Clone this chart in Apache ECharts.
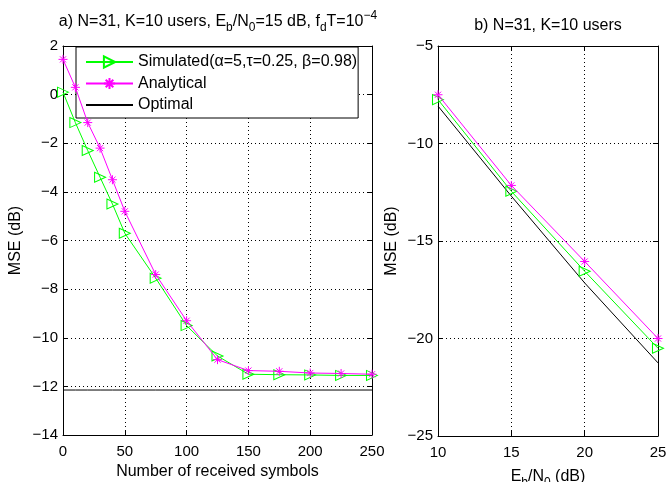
<!DOCTYPE html>
<html>
<head>
<meta charset="utf-8">
<script src="https://cdn.jsdelivr.net/npm/echarts@6/dist/echarts.min.js"></script>
<style>
  html, body { margin: 0; padding: 0; background: #fff; }
  #chart { width: 668px; height: 482px; }
</style>
</head>
<body>
<div id="chart"></div>
<script>
// Panel a: MSE versus number of received symbols (Eb/N0 = 15 dB)
const symbolsA    = [0, 10, 20, 30, 40, 50, 75, 100, 125, 150, 175, 200, 225, 250];
const simulatedA  = [0.1, -1.15, -2.3, -3.4, -4.5, -5.7, -7.55, -9.5, -10.75, -11.5, -11.52, -11.53, -11.55, -11.55];
const analyticalA = [1.45, 0.3, -1.15, -2.2, -3.5, -4.8, -7.4, -9.3, -10.9, -11.35, -11.38, -11.45, -11.47, -11.5];
const optimalA    = [-12.15, -12.15, -12.15, -12.15, -12.15, -12.15, -12.15, -12.15, -12.15, -12.15, -12.15, -12.15, -12.15, -12.15];

// Panel b: MSE versus Eb/N0
const ebn0B       = [10, 15, 20, 25];
const simulatedB  = [-7.75, -12.45, -16.55, -20.5];
const analyticalB = [-7.5, -12.15, -16.05, -20.0];
const optimalB    = [-8.08, -12.7, -17.15, -21.25];

// Axis ticks
const ticksAX = [0, 50, 100, 150, 200, 250];
const ticksAY = [-14, -12, -10, -8, -6, -4, -2, 0, 2];
const ticksBX = [10, 15, 20, 25];
const ticksBY = [-25, -20, -15, -10, -5];

const legendNames = ['Simulated(\u03b1=5,\u03c4=0.25, \u03b2=0.98)', 'Analytical', 'Optimal'];

const FONT = 'Liberation Sans, Arial, Helvetica, sans-serif';
const GREEN = '#00ff00', MAGENTA = '#ff00ff', BLACK = '#000000';
const ASTERISK = 'path://M5,0L5,10M0,5L10,5M1.6,1.6L8.4,8.4M8.4,1.6L1.6,8.4';

const pair = (xs, ys) => xs.map((x, i) => [x, ys[i]]);
const minus = v => String(v).replace('-', '\u2212');
const range = t => ({ min: t[0], max: t[t.length - 1], interval: t[1] - t[0] });

function axis(kind, gridIndex, ticks, position, primary, extra) {
  return Object.assign({
    type: 'value',
    gridIndex,
    position,
    ...range(ticks),
    axisLine: { show: true, onZero: false, lineStyle: { color: BLACK, width: 1 } },
    axisTick: { show: true, inside: true, length: 5, lineStyle: { color: BLACK } },
    axisLabel: primary
      ? { show: true, color: BLACK, fontFamily: FONT, fontSize: 15, margin: kind === 'x' ? 9 : 5, formatter: minus }
      : { show: false },
    splitLine: primary
      ? { show: true, lineStyle: { color: BLACK, type: [1, 3], width: 1 } }
      : { show: false }
  }, extra || {});
}

const nameStyle = {
  color: BLACK, fontFamily: FONT, fontSize: 16
};
const subNameStyle = {
  color: BLACK, fontFamily: FONT, fontSize: 16, lineHeight: 24,
  rich: {
    sub: { fontSize: 12, fontFamily: FONT, color: BLACK, verticalAlign: 'bottom', lineHeight: 8 }
  }
};

const simStyle = {
  symbol: 'triangle', symbolRotate: -90, symbolSize: [10, 11],
  lineStyle: { color: GREEN, width: 1 },
  itemStyle: { color: 'rgba(0,0,0,0)', borderColor: GREEN, borderWidth: 1 }
};
const anaStyle = {
  symbol: ASTERISK, symbolSize: 9,
  lineStyle: { color: MAGENTA, width: 1 },
  itemStyle: { color: 'rgba(0,0,0,0)', borderColor: MAGENTA, borderWidth: 1 }
};
const optStyle = {
  symbol: 'none', showSymbol: false,
  lineStyle: { color: BLACK, width: 1 },
  itemStyle: { color: BLACK }
};

const option = {
  backgroundColor: '#fff',
  animation: false,
  grid: [
    { left: 63, top: 46, width: 309, height: 389, containLabel: false, outerBoundsMode: 'none' },
    { left: 438, top: 46, width: 220, height: 390, containLabel: false, outerBoundsMode: 'none' }
  ],
  xAxis: [
    axis('x', 0, ticksAX, 'bottom', true, {
      name: 'Number of received symbols', nameLocation: 'middle', nameGap: 25, nameTextStyle: nameStyle
    }),
    axis('x', 0, ticksAX, 'top', false),
    axis('x', 1, ticksBX, 'bottom', true, {
      name: 'E{sub|b}/N{sub|0} (dB)', nameLocation: 'middle', nameGap: 13, nameTextStyle: subNameStyle
    }),
    axis('x', 1, ticksBX, 'top', false)
  ],
  yAxis: [
    axis('y', 0, ticksAY, 'left', true, {
      name: 'MSE (dB)', nameLocation: 'middle', nameGap: 39, nameTextStyle: nameStyle
    }),
    axis('y', 0, ticksAY, 'right', false),
    axis('y', 1, ticksBY, 'left', true, {
      name: 'MSE (dB)', nameLocation: 'middle', nameGap: 38, nameTextStyle: nameStyle
    }),
    axis('y', 1, ticksBY, 'right', false)
  ],
  legend: {
    data: [
      { name: legendNames[0] },
      { name: legendNames[1] },
      { name: legendNames[2], itemStyle: { color: 'rgba(0,0,0,0)', borderWidth: 0, opacity: 0 } }
    ],
    orient: 'vertical',
    left: 76, top: 47,
    padding: [7, 1, 5, 9],
    itemWidth: 47, itemHeight: 14, itemGap: 5.5,
    backgroundColor: '#fff',
    borderColor: BLACK, borderWidth: 1, borderRadius: 0,
    textStyle: { color: BLACK, fontFamily: FONT, fontSize: 16 },
    selectedMode: false
  },
  graphic: [
    {
      type: 'text', x: 218, y: 22, z: 100,
      style: {
        text: 'a) N=31, K=10 users, E{sub|b}/N{sub|0}=15 dB, f{sub|d}T=10{sup|\u22124}',
        fill: BLACK, fontFamily: FONT, fontSize: 16, align: 'center', verticalAlign: 'middle',
        lineHeight: 24,
        rich: {
          sub: { fontSize: 12, fontFamily: FONT, fill: BLACK, verticalAlign: 'bottom', lineHeight: 8 },
          sup: { fontSize: 12, fontFamily: FONT, fill: BLACK, verticalAlign: 'top', lineHeight: 12 }
        }
      }
    },
    {
      type: 'text', x: 548, y: 26, z: 100,
      style: {
        text: 'b) N=31, K=10 users',
        fill: BLACK, fontFamily: FONT, fontSize: 16, align: 'center', verticalAlign: 'middle'
      }
    }
  ],
  series: [
    Object.assign({ type: 'line', name: legendNames[0], xAxisIndex: 0, yAxisIndex: 0, clip: false,
      data: pair(symbolsA, simulatedA), z: 3 }, simStyle),
    Object.assign({ type: 'line', name: legendNames[1], xAxisIndex: 0, yAxisIndex: 0, clip: false,
      data: pair(symbolsA, analyticalA), z: 4 }, anaStyle),
    Object.assign({ type: 'line', name: legendNames[2], xAxisIndex: 0, yAxisIndex: 0, clip: false,
      data: pair(symbolsA, optimalA), z: 2 }, optStyle),
    Object.assign({ type: 'line', name: legendNames[0], xAxisIndex: 2, yAxisIndex: 2, clip: false,
      data: pair(ebn0B, simulatedB), z: 3 }, simStyle),
    Object.assign({ type: 'line', name: legendNames[1], xAxisIndex: 2, yAxisIndex: 2, clip: false,
      data: pair(ebn0B, analyticalB), z: 4 }, anaStyle),
    Object.assign({ type: 'line', name: legendNames[2], xAxisIndex: 2, yAxisIndex: 2, clip: false,
      data: pair(ebn0B, optimalB), z: 2 }, optStyle)
  ]
};

const chart = echarts.init(document.getElementById('chart'), null, { renderer: 'canvas' });
chart.setOption(option);
</script>
</body>
</html>
